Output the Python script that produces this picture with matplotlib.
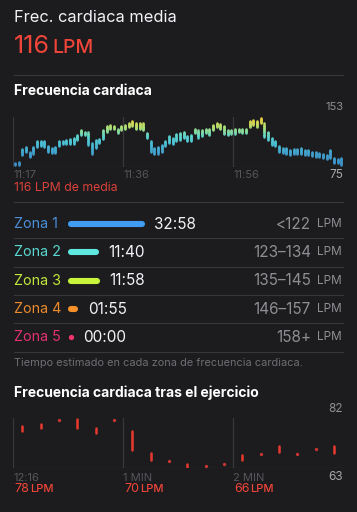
import matplotlib
matplotlib.use("Agg")
import matplotlib.pyplot as plt
import matplotlib.transforms as mtrans
import numpy as np
from matplotlib.collections import LineCollection
from matplotlib.colors import LinearSegmentedColormap

# heart rate over the workout, one min/max bar per interval (bpm)
hr_low = [78, 78, 94, 99, 91, 96, 106, 108, 106, 99, 97, 97, 108, 111, 111, 111, 111, 117,
          125, 125, 109, 96, 104, 112, 118, 130, 135, 134, 128, 133, 135, 138, 139, 135,
          135, 133, 120, 99, 96, 96, 99, 108, 112, 111, 115, 117, 120, 115, 116, 128,
          121, 123, 128, 125, 132, 138, 135, 126, 125, 126, 126, 130, 128, 128, 138,
          141, 138, 143, 122, 117, 109, 107, 99, 97, 96, 94, 95, 96, 96, 94, 94, 92,
          91, 90, 89, 87, 89, 82, 81, 78]
hr_high = [82, 83, 103, 106, 99, 106, 115, 115, 115, 107, 104, 106, 116, 116, 117, 118, 120,
           125, 133, 130, 130, 112, 117, 118, 133, 139, 141, 139, 135, 139, 141, 143, 147,
           144, 143, 143, 128, 115, 104, 106, 109, 116, 123, 120, 126, 128, 129, 123, 125,
           135, 132, 133, 134, 135, 141, 143, 142, 139, 133, 133, 135, 135, 135, 135, 146,
           148, 146, 151, 143, 130, 120, 115, 107, 104, 104, 102, 103, 103, 104, 102, 102,
           99, 99, 97, 96, 94, 102, 89, 87, 89]
hr_ticks = ["11:17", "11:36", "11:56"]
hr_range = [75, 153]
hr_mean = 116

zone_names = ["Zona 1", "Zona 2", "Zona 3", "Zona 4", "Zona 5"]
zone_seconds = [1978, 700, 718, 115, 0]
zone_times = ["32:58", "11:40", "11:58", "01:55", "00:00"]
zone_ranges = ["<122", "123\u2013134", "135\u2013145", "146\u2013157", "158+"]
zone_text_colors = ["#4a8fd8", "#5ad8d0", "#c3e83c", "#ea8a2c", "#e2336c"]
zone_bar_colors = ["#3f9cf2", "#5ee8e0", "#c8f53a", "#f5902a", "#f2346e"]

# recovery: one reading every 10 s for 3 minutes
rec_low = [77.2, 78.1, 81.3, 78.1, 76.3, 81.3, 69.8, 66.0, 65.6, 63.4, 63.6, 64.4,
           66.2, 68.3, 69.1, 68.3, 70.1, 68.8]
rec_high = [79.1, 79.8, 81.3, 81.7, 78.1, 81.3, 77.2, 68.8, 65.6, 64.7, 63.6, 64.4,
            67.8, 68.3, 71.4, 68.3, 70.1, 71.4]
rec_ticks = ["12:16", "1 MIN", "2 MIN"]
rec_marks = [78, 70, 66]
rec_range = [63, 82]

BG = "#1c1c1e"
SEP = "#38383a"
RED = "#f2453a"
W, H = 357, 512

plt.rcParams["font.family"] = ["Inter", "DejaVu Sans"]

fig = plt.figure(figsize=(W / 100, H / 100), dpi=100, facecolor=BG)


def rect(x0, y0, x1, y1):
    return [x0 / W, 1 - y1 / H, (x1 - x0) / W, (y1 - y0) / H]


bg = fig.add_axes([0, 0, 1, 1])
bg.set_xlim(0, W)
bg.set_ylim(H, 0)
bg.axis("off")
bg.set_facecolor(BG)

# header
bg.text(14, 18, "Frec. cardiaca media", color="#f2f2f7", fontsize=11.8, va="center")
bg.text(14, 53, str(hr_mean), color=RED, fontsize=18, va="baseline")
bg.text(52, 53, "LPM", color=RED, fontsize=14, fontweight="medium", va="baseline")
bg.plot([14, 343], [75, 75], color=SEP, lw=0.8)

bg.text(14, 91, "Frecuencia cardiaca", color="white", fontsize=10,
        fontweight="bold", va="center")

# heart rate chart
ax = fig.add_axes(rect(13, 117, 343, 167))
ax.set_facecolor("none")
n = len(hr_low)
ax.set_xlim(0, n)
ax.set_ylim(*hr_range)
for s in ax.spines.values():
    s.set_visible(False)
ax.axhline(hr_range[0], color=SEP, lw=0.9)
grid_x = [0, n / 3, 2 * n / 3]
for gx in grid_x:
    ax.axvline(gx, color=SEP, lw=0.9)

cmap = LinearSegmentedColormap.from_list(
    "hr", [(0.0, "#3b8cc8"), (0.3, "#429fcc"), (0.5, "#4cc0d4"), (0.64, "#5cd4cc"),
           (0.8, "#a8e07c"), (0.92, "#dcd44a"), (1.0, "#e8c83c")])
segs, cols = [], []
for i, (lo, hi) in enumerate(zip(hr_low, hr_high)):
    ys = np.linspace(lo, hi, 7)
    for a, b in zip(ys[:-1], ys[1:]):
        segs.append([(i + 0.5, a), (i + 0.5, b)])
        cols.append(cmap(((a + b) / 2 - hr_range[0]) / (hr_range[1] - hr_range[0])))
lc = LineCollection(segs, colors=cols, linewidths=1.85, capstyle="round")
ax.add_collection(lc)

ax.set_xticks(grid_x, hr_ticks)
ax.tick_params(axis="x", length=0, pad=2.5, labelsize=8, labelcolor="#56565b")
for lab in ax.get_xticklabels():
    lab.set_ha("left")
ax.set_yticks([])
ax.text(1.0, 1.2, str(hr_range[1]), transform=ax.transAxes, ha="right",
        va="center", fontsize=8, color="#8e8e93")
ax.text(1.0, -0.15, str(hr_range[0]), transform=ax.transAxes, ha="right",
        va="center", fontsize=8.5, color="#a8a8ad")
bg.text(14, 188, f"{hr_mean} LPM de media", color="#d9413a", fontsize=8.8, va="center")

# zones
bg.plot([14, 343], [202, 202], color=SEP, lw=0.8)
zax = fig.add_axes(rect(71, 209.85, 171, 351.65))
zax.axis("off")
zax.set_xlim(0, 2786)
zax.set_ylim(len(zone_names) - 0.5, -0.5)
tr = mtrans.blended_transform_factory(bg.transData, zax.transData)
for i, (name, sec, t, rng) in enumerate(zip(zone_names, zone_seconds, zone_times, zone_ranges)):
    if sec > 0:
        zax.plot([0, sec], [i, i], color=zone_bar_colors[i], lw=4.4,
                 solid_capstyle="round", clip_on=False)
    else:
        zax.plot([sec], [i], "o", color=zone_bar_colors[i], ms=3.8, mew=0,
                 clip_on=False)
    zax.annotate(t, (sec, i), xytext=(9, 0), textcoords="offset points",
                 va="center", ha="left", fontsize=11, color="#f2f2f7")
    bg.text(14, i, name, transform=tr, va="center", fontsize=10.3,
            color=zone_text_colors[i])
    bg.text(311, i, rng, transform=tr, va="center", ha="right", fontsize=11,
            color="#8e8e93")
    bg.text(342, i, "LPM", transform=tr, va="center", ha="right", fontsize=8.5,
            color="#8e8e93")
    bg.plot([14, 343], [i + 0.5, i + 0.5], transform=tr, color=SEP, lw=0.8)

bg.text(14, 363, "Tiempo estimado en cada zona de frecuencia cardiaca.",
        color="#6e6e73", fontsize=7.9, va="center")

# recovery chart
bg.text(14, 393, "Frecuencia cardiaca tras el ejercicio", color="white",
        fontsize=10, fontweight="bold", va="center")
rax = fig.add_axes(rect(13, 418, 343, 468))
rax.set_facecolor("none")
for s in rax.spines.values():
    s.set_visible(False)
rax.set_xlim(0, 180)
rax.set_ylim(*rec_range)
rax.axhline(rec_range[0], color=SEP, lw=0.9)
tick_s = [0, 60, 120]
for gx in tick_s:
    rax.axvline(gx, color=SEP, lw=0.9)
rx = np.arange(len(rec_low)) * 10 + 5
lo = np.array(rec_low)
hi = np.array(rec_high)
rng_mask = hi > lo
rax.vlines(rx[rng_mask], lo[rng_mask], hi[rng_mask], color="#e8392f", lw=1.8,
           capstyle="round")
rax.plot(rx[~rng_mask], lo[~rng_mask], "o", color="#c8352e", ms=2.4, mew=0,
         clip_on=False)
rax.set_xticks(tick_s, rec_ticks)
rax.tick_params(axis="x", length=0, pad=3.5, labelsize=8, labelcolor="#56565b")
for lab in rax.get_xticklabels():
    lab.set_ha("left")
rax.set_yticks([])
rax.text(1.0, 1.18, str(rec_range[1]), transform=rax.transAxes, ha="right",
         va="center", fontsize=8.5, color="#8e8e93")
rax.text(1.0, -0.18, str(rec_range[0]), transform=rax.transAxes, ha="right",
         va="center", fontsize=8.5, color="#a8a8ad")
rtr = mtrans.blended_transform_factory(rax.transData, bg.transData)
for gx, v in zip(tick_s, rec_marks):
    rax.annotate(str(v), (gx, 489), xycoords=rtr, xytext=(0.8, 0),
                 textcoords="offset points", va="center", fontsize=9, color=RED)
    rax.annotate("LPM", (gx, 489), xycoords=rtr, xytext=(12.2, 0),
                 textcoords="offset points", va="center", fontsize=8,
                 fontweight="medium", color=RED)

fig.savefig("out.png", dpi=100, facecolor=BG)
